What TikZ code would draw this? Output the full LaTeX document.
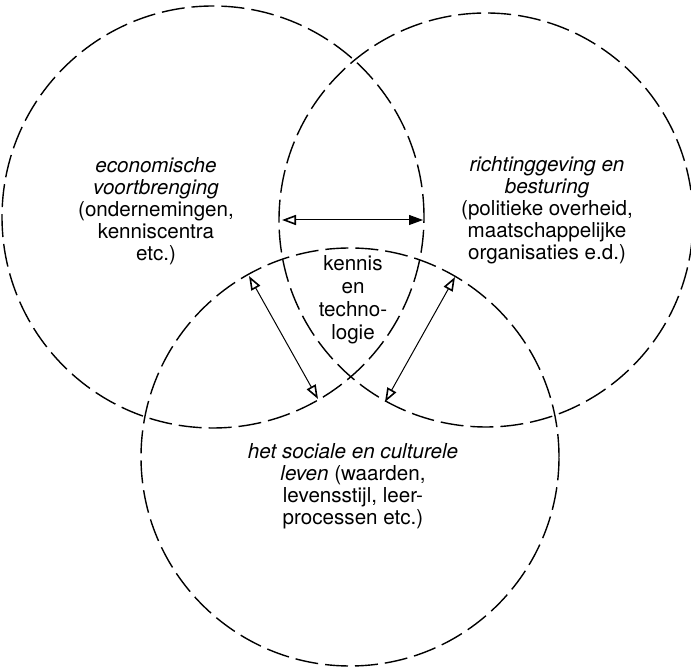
\documentclass[tikz,border=0pt]{standalone}
\usepackage{fontspec}
\setmainfont{TeX Gyre Heros}
\usetikzlibrary{arrows.meta}
\tikzset{
  openhead/.tip={Triangle[open, length=7pt, width=5pt, line width=0.8pt]},
  fullhead/.tip={Triangle[length=7pt, width=5pt]}
}
\begin{document}
\begin{tikzpicture}[x=0.5pt,y=-0.5pt,
  ring/.style={circle, draw, inner sep=0pt, line width=0.7pt,
    dash pattern=on 11.5pt off 3.5pt},
  lbl/.style={align=center, inner sep=0pt, font=\fontsize{10.3}{11}\selectfont},
  link/.style={line width=0.5pt}]
\useasboundingbox (0,0) rectangle (691,667);

% the three domains
\node[ring, minimum size=211pt] (eco) at (213,217) {};
\node[ring, minimum size=207pt] (gov) at (486,220) {};
\node[ring, minimum size=209pt] (soc) at (350,457) {};

% texts
\node[lbl] (ecoT) at (156,211) {\textit{economische}\\\textit{voortbrenging}\\(ondernemingen,\\kenniscentra\\etc.)};
\node[lbl] (govT) at (547,210) {\textit{richtinggeving en}\\\textit{besturing}\\(politieke overheid,\\maatschappelijke\\organisaties e.d.)};
\node[lbl] (socT) at (353,486) {\textit{het sociale en culturele}\\\textit{leven} (waarden,\\levensstijl, leer-\\processen etc.)};
\node[lbl, font=\fontsize{10.3}{11.5}\selectfont] (kt) at (353,300) {kennis\\en\\techno-\\logie};

% arrow end points on the circle boundaries
\coordinate (h1) at (282,220);
\coordinate (h2) at (423,220);
\coordinate (a1) at (249,276);
\coordinate (a2) at (318,399);
\coordinate (b1) at (455,277);
\coordinate (b2) at (385,402);

\draw[link, openhead-fullhead] (h1) -- (h2);
\draw[link, openhead-openhead] (a1) -- (a2);
\draw[link, openhead-openhead] (b1) -- (b2);
\end{tikzpicture}
\end{document}
